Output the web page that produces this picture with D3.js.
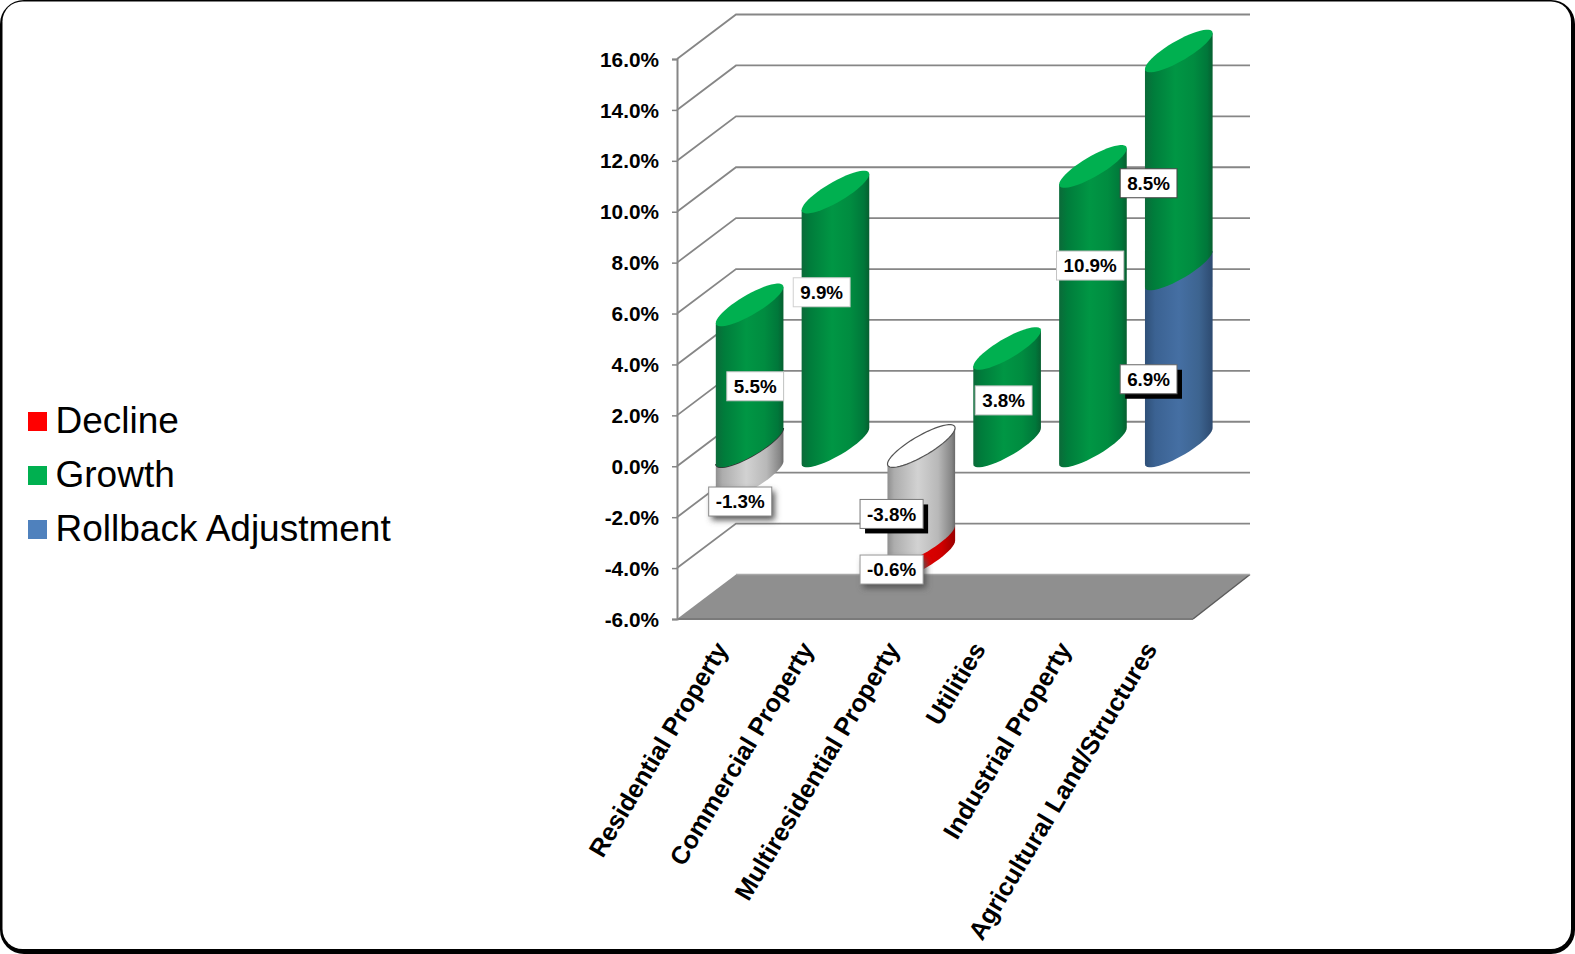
<!DOCTYPE html>
<html><head><meta charset="utf-8">
<script src="https://cdn.jsdelivr.net/npm/d3@7"></script>
<style>
html,body{margin:0;padding:0;background:#fff;overflow:hidden}
svg{display:block}
text{font-family:"Liberation Sans",Arial,sans-serif;fill:#000}
</style></head><body>
<svg id="c" width="1575" height="954"></svg>
<script>
// ---- data ----
const categories = ["Residential Property","Commercial Property","Multiresidential Property","Utilities","Industrial Property","Agricultural Land/Structures"];
const legendNames = ["Decline","Growth","Rollback Adjustment"];
const yTicks = [-6,-4,-2,0,2,4,6,8,10,12,14,16];
const growth   = [5.5, 9.9, 0, 3.8, 10.9, 8.5];
const rollback = [0, 0, 0, 0, 0, 6.9];
const neutral  = [-1.3, 0, -3.8, 0, 0, 0];
const decline  = [0, 0, -0.6, 0, 0, 0];

// ---- layout ----
const W=1575,H=954;
const plot={left:677,right:1193,top:59,bottom:619};
const depth={dx:59,dy:-44.5};
const barSkew=36, barBulge=11.5, barShift=29.7, barLift=20.5;
const svg=d3.select("#c");
const y=d3.scaleLinear().domain([-6,16]).range([plot.bottom,plot.top]);
// the cylinders stand on a middle plane, which is drawn a touch larger than the back wall
const yBar=d3.scaleLinear().domain([0,16]).range([466.5,466.5-16*25.65]);
const x=d3.scaleBand().domain(categories).range([plot.left,plot.right-1]).paddingInner(0.212).paddingOuter(0.106);
const gridCol="#868686";
const pct=d=>d.toFixed(1)+"%";

// frame
svg.append("rect").attr("width",W).attr("height",H).attr("fill","#fff");
svg.append("rect").attr("x",0).attr("y",0).attr("width",W).attr("height",H).attr("rx",24).attr("fill","#000");
svg.append("rect").attr("x",2.5).attr("y",1.5).attr("width",W-6.5).attr("height",H-6.5).attr("rx",20).attr("fill","#fff");

// gradients
const defs=svg.append("defs");
function grad(id,stops){
  const g=defs.append("linearGradient").attr("id",id).attr("x1",0).attr("x2",1).attr("y1",0).attr("y2",0);
  stops.forEach(s=>g.append("stop").attr("offset",s[0]).attr("stop-color",s[1]));
}
grad("gGreen",[[0,"#0b6a39"],[.12,"#007c3b"],[.45,"#009644"],[.72,"#008c40"],[.92,"#00773a"],[1,"#075f30"]]);
grad("gBlue",[[0,"#2f5078"],[.15,"#3b6292"],[.5,"#456fa3"],[.8,"#3d6490"],[1,"#2d4a70"]]);
grad("gGrey",[[0,"#8f8f8f"],[.1,"#adadad"],[.45,"#d2d2d2"],[.75,"#b8b8b8"],[.95,"#858585"],[1,"#6a6a6a"]]);
grad("gRed",[[0,"#b00000"],[.4,"#e60000"],[.8,"#d00000"],[1,"#990000"]]);
const soft=defs.append("filter").attr("id","soft").attr("x","-30%").attr("y","-30%").attr("width","170%").attr("height","170%");
soft.append("feGaussianBlur").attr("stdDeviation",3);

// walls and floor
const g=svg.append("g");
const floorPts=[[plot.left,y(-6)],[plot.left+depth.dx,y(-6)+depth.dy],[plot.right+depth.dx-2,y(-6)+depth.dy],[plot.right,y(-6)]];
g.append("path").attr("d",d3.line()(floorPts)+"Z").attr("fill","#8f8f8f");
g.append("path").attr("d",d3.line()([floorPts[2],floorPts[3]])).attr("stroke","#5c5c5c").attr("stroke-width",1.5).attr("fill","none");
g.append("path").attr("d",d3.line()([floorPts[0],floorPts[3]])).attr("stroke","#7a7a7a").attr("stroke-width",2).attr("fill","none");
g.append("path").attr("d",d3.line()([floorPts[1],floorPts[2]])).attr("stroke","#a8a8a8").attr("stroke-width",1.5).attr("fill","none");
yTicks.filter(t=>t>-6).forEach(t=>{
  g.append("path").attr("fill","none").attr("stroke",gridCol).attr("stroke-width",1.8)
   .attr("d",d3.line()([[plot.left,y(t)],[plot.left+depth.dx,y(t)+depth.dy],[plot.right+depth.dx-2,y(t)+depth.dy]]));
});

// value axis
const yAxis=d3.axisLeft(y).tickValues(yTicks).tickFormat(pct).tickSize(5).tickPadding(13);
const ya=svg.append("g").attr("transform",`translate(${plot.left},0)`).call(yAxis);
ya.selectAll("path.domain").attr("stroke",gridCol).attr("stroke-width",2);
ya.selectAll(".tick line").attr("stroke",gridCol).attr("stroke-width",1.5);
ya.selectAll("text").style("font-family",'"Liberation Sans",Arial,sans-serif').attr("font-size",20.8).attr("font-weight","bold").attr("fill","#000").attr("y",0.5);

// category axis
const xAxis=d3.axisBottom(x).tickSize(0).tickPadding(0);
const xa=svg.append("g").attr("transform",`translate(0,${plot.bottom})`).call(xAxis);
xa.select("path.domain").remove();
xa.selectAll("text").style("font-family",'"Liberation Sans",Arial,sans-serif').attr("font-size",25.2).attr("font-weight","bold").attr("fill","#000")
  .attr("text-anchor","end").attr("dy",0).attr("y",0)
  .attr("transform","translate(9,30) rotate(-59)");

// cylinders
const cx=c=>x(c)+x.bandwidth()/2+barShift;
const a=x.bandwidth()/2;
const angles=d3.range(0,1.0001,0.04).map(f=>f*Math.PI);
const lineGen=d3.line();
const rimMid=v=>yBar(v)-barLift;
function edge(c,v,side){
  return angles.map(t=>[cx(c)-a*Math.cos(t), rimMid(v)+(barSkew/2)*Math.cos(t)+side*barBulge*Math.sin(t)]);
}
function body(c,v0,v1,fill){
  const upper=Math.max(v0,v1), lower=Math.min(v0,v1);
  const lowEdge=edge(c,lower,1);
  const pts=[[cx(c)-a,rimMid(upper)+barSkew/2],[cx(c)+a,rimMid(upper)-barSkew/2]].concat(lowEdge.slice().reverse());
  svg.append("path").attr("d",lineGen(pts)+"Z").attr("fill",fill);
}
function cap(c,v,fill,stroke){
  const up=edge(c,v,-1), lo=edge(c,v,1).reverse();
  svg.append("path").attr("d",lineGen(up.concat(lo))+"Z").attr("fill",fill)
     .attr("stroke",stroke||"none").attr("stroke-width",stroke?1.2:0);
}
categories.forEach((c,i)=>{
  if(decline[i]) body(c,neutral[i],neutral[i]+decline[i],"url(#gRed)");
  if(neutral[i]) body(c,0,neutral[i],"url(#gGrey)");
  if(rollback[i]) body(c,0,rollback[i],"url(#gBlue)");
  if(growth[i]){
    const base=rollback[i];
    if(neutral[i]) svg.append("path").attr("d",lineGen(edge(c,0,1))).attr("fill","none").attr("stroke","#333").attr("stroke-width",1.4);
    body(c,base,base+growth[i],"url(#gGreen)");
    cap(c,base+growth[i],"#00b050");
  } else if(neutral[i]) cap(c,0,"#fff","#555");
});

// data labels: [category index, value, middle value, dx, dy, shadow, border]
const dl=[
 [0,neutral[0],neutral[0]/2,-9.4,39.7,"soft","#8a8a8a"],
 [0,growth[0],growth[0]/2,5.6,11,"none","#c4c4c4"],
 [1,growth[1],growth[1]/2,-13.8,-27,"none","#d0d0d0"],
 [2,neutral[2],neutral[2]/2,-29.7,20.3,"hard","#777"],
 [2,decline[2],neutral[2]+decline[2]/2,-29.7,19.9,"soft","#999"],
 [3,growth[3],growth[3]/2,-3.5,3.5,"none","#c4c4c4"],
 [4,growth[4],growth[4]/2,-2.8,-41,"none","#c4c4c4"],
 [5,rollback[5],rollback[5]/2,-30.2,21.8,"hard","#666"],
 [5,growth[5],rollback[5]+growth[5]/2,-30.2,21.8,"none","#444"]
];
dl.forEach(d=>{
  const cxx=cx(categories[d[0]])+d[3], cyy=y(d[2])-21+d[4];
  const gg=svg.append("g");
  const t=gg.append("text").attr("x",cxx).attr("y",cyy+6.8).attr("text-anchor","middle").attr("font-size",18.8).attr("font-weight","bold").text(pct(d[1]));
  const w=t.node().getComputedTextLength()+14, h=29;
  const rect=(sel)=>sel.insert("rect","text").attr("x",cxx-w/2).attr("y",cyy-h/2).attr("width",w).attr("height",h);
  if(d[5]==="hard") rect(gg).attr("transform","translate(5,5)").attr("fill","#000");
  if(d[5]==="soft") rect(gg).attr("transform","translate(3,4)").attr("fill","#555").attr("filter","url(#soft)");
  rect(gg).attr("fill","#fff").attr("stroke",d[6]).attr("stroke-width",1);
});

// legend
const legendColors=["#ff0000","#00b050","#4f81bd"];
const ly=d3.scalePoint().domain(legendNames).range([433,541]);
legendNames.forEach((n,i)=>{
  svg.append("rect").attr("x",28).attr("y",ly(n)-21).attr("width",19).attr("height",19).attr("fill",legendColors[i]);
  svg.append("text").attr("x",55.5).attr("y",ly(n)).attr("font-size",37).text(n);
});
</script>
</body></html>
